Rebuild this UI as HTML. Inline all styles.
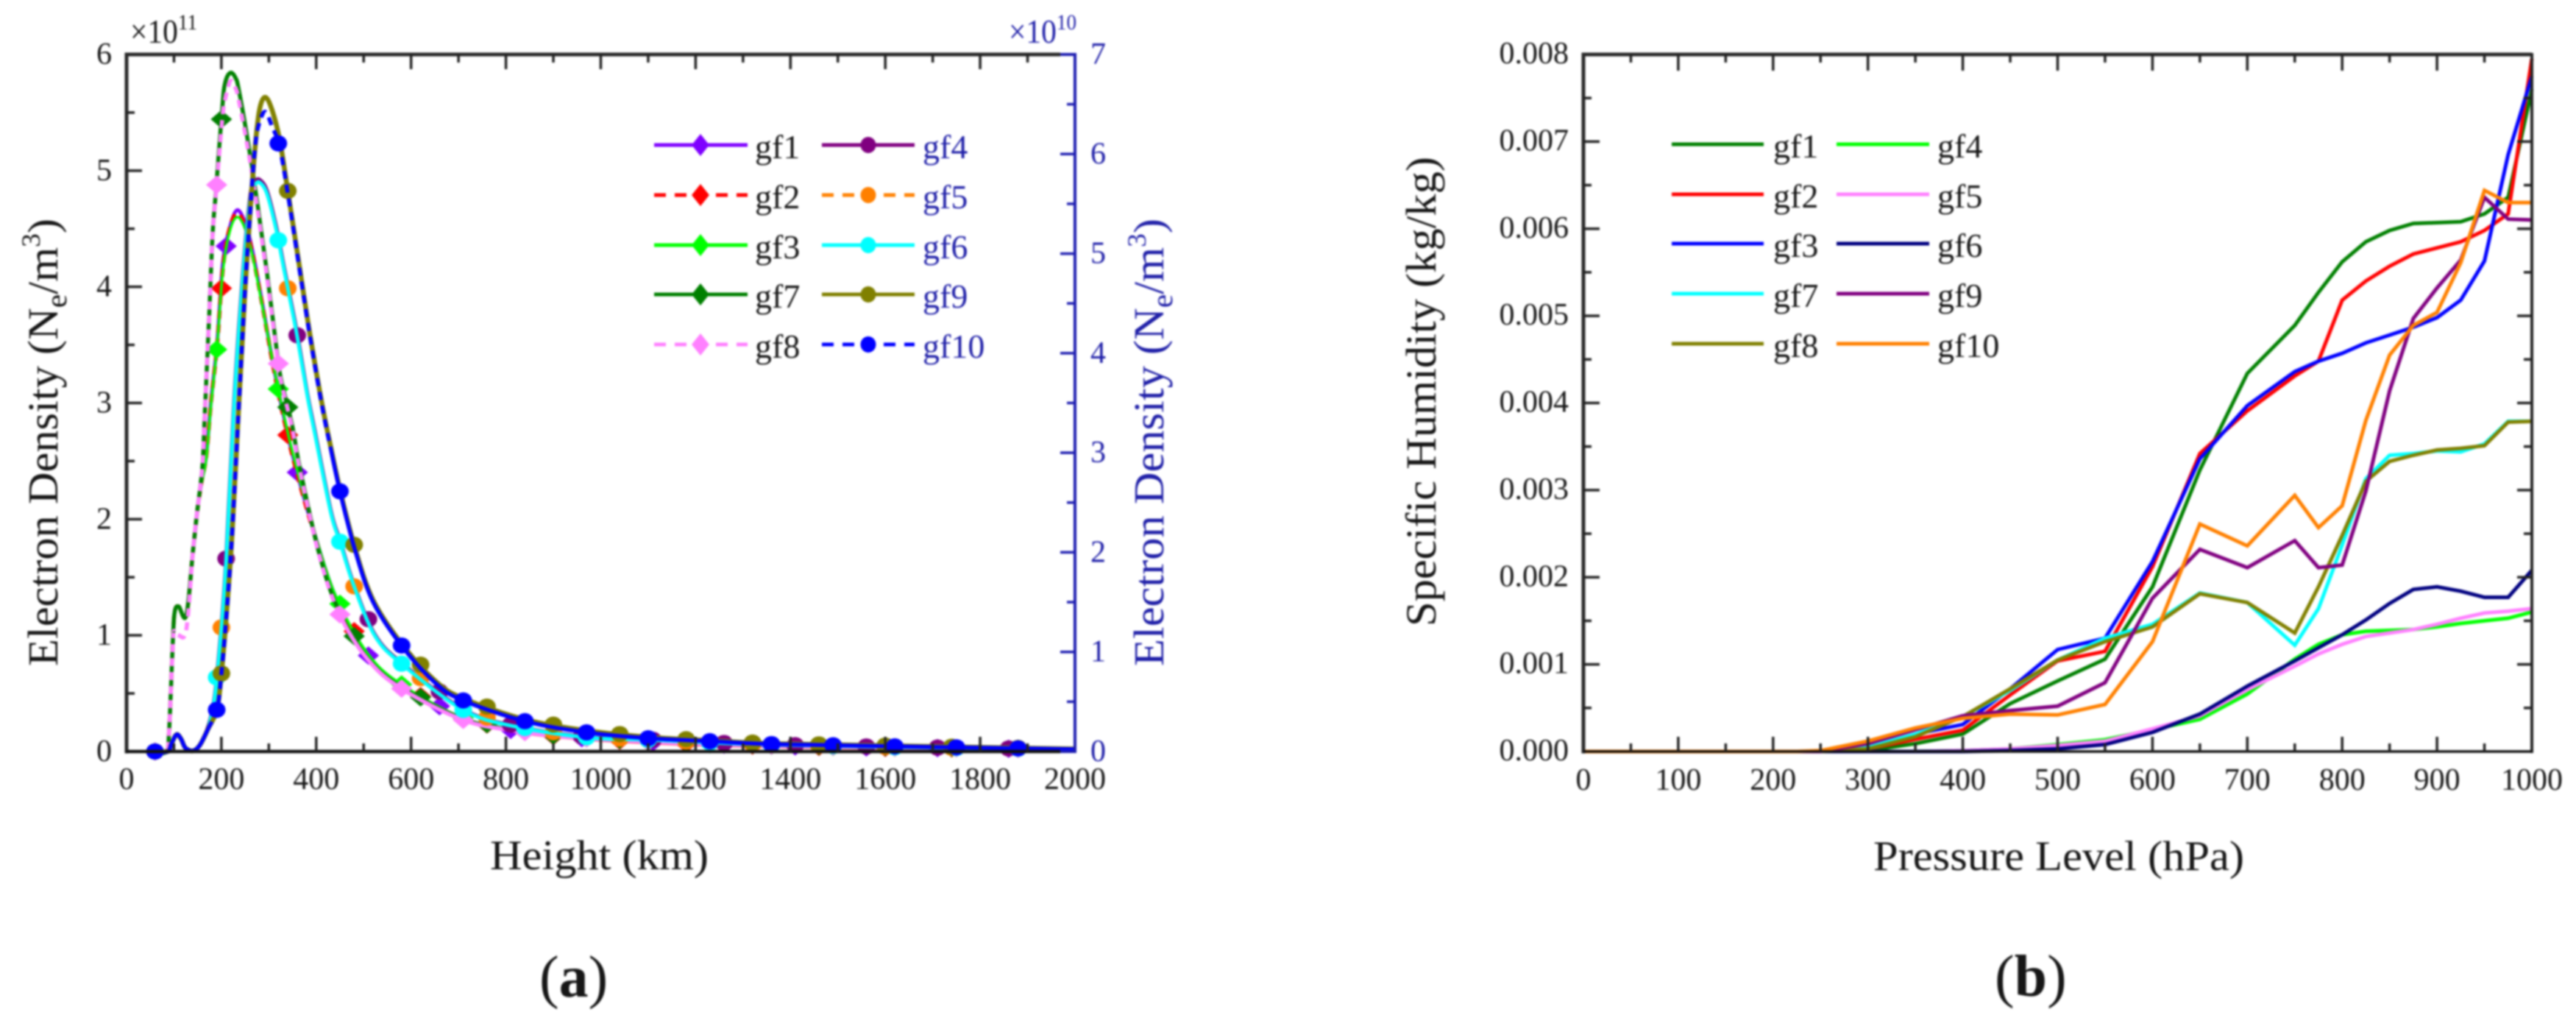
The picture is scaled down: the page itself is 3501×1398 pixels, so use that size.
<!DOCTYPE html>
<html lang="en">
<head>
<meta charset="utf-8">
<title>Electron density and specific humidity profiles</title>
<style>
html,body{margin:0;padding:0;background:#fff;width:3501px;height:1398px;overflow:hidden}
svg{display:block;filter:blur(1.2px)}
text{font-family:"Liberation Serif",serif;fill:#161616}
.sans{font-family:"Liberation Sans",sans-serif}
.blue{fill:#2020a8}
</style>
</head>
<body>
<svg id="figure" xmlns="http://www.w3.org/2000/svg" width="3501" height="1398" viewBox="0 0 3501 1398">
  <rect width="3501" height="1398" fill="#fff"/>
  <g id="panel-a"></g>
  <g id="panel-b"></g>

  <text x="666" y="1181" font-size="57" textLength="297" lengthAdjust="spacingAndGlyphs">Height (km)</text>
  <text transform="translate(78,905) rotate(-90)" font-size="58" textLength="608" lengthAdjust="spacingAndGlyphs">Electron Density (N<tspan font-size="40" dy="12">e</tspan><tspan dy="-12">/m</tspan><tspan font-size="36" dy="-24">3</tspan><tspan dy="24">)</tspan></text>
  <text class="blue" transform="translate(1581,905) rotate(-90)" font-size="58" textLength="608" lengthAdjust="spacingAndGlyphs">Electron Density (N<tspan class="blue" font-size="40" dy="12">e</tspan><tspan class="blue" dy="-12">/m</tspan><tspan class="blue" font-size="36" dy="-24">3</tspan><tspan class="blue" dy="24">)</tspan></text>
  <text x="177" y="58" font-size="46" textLength="91" lengthAdjust="spacingAndGlyphs">×10<tspan font-size="30" dy="-18">11</tspan></text>
  <text class="blue" x="1371" y="58" font-size="46" textLength="92" lengthAdjust="spacingAndGlyphs">×10<tspan class="blue" font-size="30" dy="-18">10</tspan></text>
  <text x="733" y="1354" font-size="80">(<tspan font-weight="bold">a</tspan>)</text>

  <text x="2546" y="1182" font-size="57" textLength="504" lengthAdjust="spacingAndGlyphs">Pressure Level (hPa)</text>
  <text transform="translate(1951,851) rotate(-90)" font-size="58" textLength="638" lengthAdjust="spacingAndGlyphs">Specific Humidity (kg/kg)</text>
  <text x="2711" y="1353" font-size="80">(<tspan font-weight="bold">b</tspan>)</text>
</svg>

<script>
// ---------- Panel (a) data: heights in km ----------
const heightsPeakHigh = [60,84,90,98,102,110,126,140,149,160,164.5,175,181.5,189,202,208,219,230,237,258,276,296,318,327,349,365,405,447,509,582,711,819,901,1001,1199,1400,1600,2000];
const heightsPeakLow = [60,84,90,98,102,110,126,140,149,158,168,178,191,203,217,233,250,265,287,307,326,354,396,442,509,582,711,819,901,1001,1199,1400,1600,2000];
const heightsLatePeakHigh = [60,87,95,105.5,115,124,140,155,172,191,200,209.5,222,237,250,261,271.5,281,293,307,323,341,365,385,411,431,451.5,482.5,520,582,653,711,841,970,1100,1232,1361,1618,2000];
const heightsLatePeakLow = [60,87,95,105.5,115,124,140,155,172,186,199,209.5,227,240.5,253,264,272,281,296,315,333,354,366,382,396,431,450,479,524,582,711,819,974,1100,1232,1361,1618,2000];

// Electron density, left axis (x 1e11)
const gf1Density = [0,0,.196,.995,1.21,1.248,1.172,1.723,2.066,2.319,2.54,3.01,3.52,4.2,4.5,4.66,4.55,4.32,3.84,3.38,2.99,2.49,1.88,1.32,.83,.56,.28,.178,.134,.102,.064,.045,.033,.019];
const gf2Density = [0,0,.196,.995,1.21,1.248,1.172,1.723,2.066,2.319,2.54,3.003,3.50,4.15,4.50,4.632,4.524,4.296,3.827,3.364,2.971,2.477,1.869,1.312,.824,.558,.279,.177,.133,.101,.063,.044,.032,.019];
const gf3Density = [0,0,.196,.995,1.21,1.248,1.172,1.723,2.066,2.30,2.52,2.98,3.50,4.13,4.47,4.60,4.50,4.28,3.82,3.38,3.00,2.51,1.89,1.33,.84,.57,.285,.18,.135,.102,.064,.045,.033,.019];
const gf7Density = [0,0,.196,.995,1.21,1.248,1.172,1.723,2.066,2.452,2.857,3.827,4.46,4.85,5.55,5.759,5.842,5.797,5.69,5.2,4.714,4.125,3.409,3.181,2.813,2.452,1.723,1.216,.798,.545,.279,.184,.139,.108,.07,.05,.038,.019];
const gf8Density = [0,0,.196,.96,1.02,1.0,1.05,1.723,2.066,2.452,2.857,3.827,4.46,4.83,5.45,5.62,5.77,5.71,5.6,5.14,4.67,4.09,3.39,3.16,2.79,2.43,1.71,1.2,.79,.535,.27,.178,.134,.104,.066,.047,.035,.018];

// Electron density, right axis (x 1e10)
const gf4Density = [0,0,.081,.170,.126,.037,.007,.067,.25,.56,1.2,1.89,3.53,4.49,5.23,5.67,5.73,5.74,5.63,5.28,4.84,4.34,4.02,3.57,3.24,2.41,2.12,1.68,1.17,.88,.42,.255,.143,.12,.09,.068,.045,.022];
const gf5Density = [0,0,.081,.170,.126,.037,.007,.067,.24,.55,1.18,1.87,3.504,4.465,5.204,5.647,5.70,5.714,5.603,5.255,4.82,4.317,3.999,3.555,3.22,2.395,2.107,1.67,1.16,.872,.414,.251,.14,.118,.089,.067,.044,.022];
const gf6Density = [0,0,.081,.170,.126,.037,.007,.067,.24,.55,1.18,1.87,3.504,4.465,5.204,5.647,5.70,5.714,5.603,5.255,4.82,4.317,3.999,3.555,3.22,2.395,2.107,1.67,1.16,.872,.414,.251,.14,.118,.089,.067,.044,.022];
const gf9Density = [0,0,.081,.170,.126,.037,.007,.067,.229,.429,.784,1.301,2.14,3.496,4.65,5.44,6.09,6.46,6.57,6.44,6.14,5.60,4.86,4.24,3.52,3.05,2.60,2.03,1.52,1.07,.70,.53,.32,.21,.145,.11,.08,.058,.026];
const gf10Density = [0,0,.081,.170,.126,.037,.007,.067,.229,.429,.784,1.301,2.14,3.496,4.65,5.44,6.09,6.327,6.423,6.275,6.068,5.573,4.834,4.22,3.50,3.03,2.58,2.01,1.5,1.05,.68,.51,.303,.192,.133,.103,.074,.052,.022];

const heightTicks = [0,200,400,600,800,1000,1200,1400,1600,1800,2000];
const leftDensityTicks = [0,1,2,3,4,5,6];
const rightDensityTicks = [0,1,2,3,4,5,6,7];

// ---------- Panel (b) data: specific humidity in 1e-3 kg/kg ----------
const pressureLevels = [0,100,200,225,250,300,350,400,450,500,550,600,650,700,750,775,800,825,850,875,900,925,950,975,1000];
const gf1Humidity = [0,0,0,0,0,.01,.09,.2,.55,.81,1.06,1.89,3.23,4.34,4.89,5.27,5.62,5.85,5.98,6.06,6.07,6.08,6.17,6.36,7.6];
const gf2Humidity = [0,0,0,0,0,.03,.14,.245,.65,1.04,1.15,2.12,3.42,3.91,4.31,4.48,5.18,5.40,5.57,5.71,5.78,5.85,5.98,6.17,7.95];
const gf3Humidity = [0,0,0,0,0,.05,.2,.31,.72,1.17,1.30,2.18,3.36,3.97,4.36,4.48,4.57,4.69,4.78,4.87,4.98,5.18,5.63,6.85,7.75];
const gf4Humidity = [0,0,0,0,0,0,0,.01,.03,.08,.135,.25,.37,.66,1.06,1.23,1.34,1.38,1.39,1.40,1.43,1.47,1.50,1.53,1.60];
const gf5Humidity = [0,0,0,0,0,0,0,.01,.03,.07,.118,.26,.41,.71,.98,1.12,1.23,1.32,1.36,1.40,1.46,1.53,1.59,1.61,1.64];
const gf6Humidity = [0,0,0,0,0,0,0,0,.01,.03,.08,.22,.43,.75,1.04,1.19,1.34,1.51,1.70,1.86,1.89,1.84,1.77,1.77,2.08];
const gf7Humidity = [0,0,0,0,0,.05,.2,.4,.7,1.05,1.30,1.46,1.82,1.71,1.22,1.64,2.37,3.13,3.40,3.42,3.45,3.44,3.53,3.79,3.79];
const gf8Humidity = [0,0,0,0,0,.03,.17,.4,.72,1.05,1.26,1.43,1.81,1.71,1.36,1.89,2.48,3.10,3.33,3.40,3.46,3.48,3.51,3.78,3.79];
const gf9Humidity = [0,0,0,0,0,.09,.25,.41,.47,.52,.79,1.76,2.32,2.11,2.42,2.11,2.14,2.99,4.14,4.97,5.32,5.64,6.36,6.11,6.1];
const gf10Humidity = [0,0,0,0,.01,.12,.27,.38,.43,.42,.54,1.26,2.61,2.36,2.94,2.57,2.82,3.80,4.55,4.89,5.04,5.61,6.44,6.30,6.30];

const pressureTicks = [0,100,200,300,400,500,600,700,800,900,1000];
const humidityTicks = ["0.000","0.001","0.002","0.003","0.004","0.005","0.006","0.007","0.008"];

// ---------- Helpers ----------
const NS = 'http://www.w3.org/2000/svg';
const panelA = document.getElementById('panel-a');
const panelB = document.getElementById('panel-b');

function make(parent, tag, name) {
  const el = document.createElementNS(NS, tag);
  
  
  parent.appendChild(el);
  return el;
}
function line(parent, name, x1, y1, x2, y2, color, width) {
  const el = make(parent, 'line', name);
  el.setAttribute('x1', x1);
  el.setAttribute('y1', y1);
  el.setAttribute('x2', x2);
  el.setAttribute('y2', y2);
  el.setAttribute('stroke', color);
  el.setAttribute('stroke-width', width);
  return el;
}
function label(parent, name, x, y, str, size, anchor, cls) {
  const el = make(parent, 'text', name);
  el.setAttribute('x', x);
  el.setAttribute('y', y);
  el.setAttribute('font-size', size);
  el.setAttribute('text-anchor', anchor);
  if (cls) el.setAttribute('class', cls);
  el.textContent = str;
  return el;
}
function interp(xs, ys, x) {
  if (x <= xs[0]) return ys[0];
  for (let i = 1; i < xs.length; i++) {
    if (x <= xs[i]) {
      const t = (x - xs[i - 1]) / (xs[i] - xs[i - 1]);
      return ys[i - 1] + t * (ys[i] - ys[i - 1]);
    }
  }
  return ys[ys.length - 1];
}
// Smooth path through a slice [a,b] of the point list
function smoothPath(pts, a, b) {
  let d = 'M' + pts[a][0].toFixed(1) + ' ' + pts[a][1].toFixed(1);
  for (let i = a; i < b; i++) {
    const p0 = pts[Math.max(i - 1, 0)], p1 = pts[i], p2 = pts[i + 1], p3 = pts[Math.min(i + 2, pts.length - 1)];
    const c1x = p1[0] + (p2[0] - p0[0]) / 6, c1y = p1[1] + (p2[1] - p0[1]) / 6;
    const c2x = p2[0] - (p3[0] - p1[0]) / 6, c2y = p2[1] - (p3[1] - p1[1]) / 6;
    d += 'C' + c1x.toFixed(1) + ' ' + c1y.toFixed(1) + ' ' + c2x.toFixed(1) + ' ' + c2y.toFixed(1) + ' ' + p2[0].toFixed(1) + ' ' + p2[1].toFixed(1);
  }
  return d;
}
function strokePath(parent, name, d, color, width, dash) {
  const el = make(parent, 'path', name);
  el.setAttribute('d', d);
  el.setAttribute('fill', 'none');
  el.setAttribute('stroke', color);
  el.setAttribute('stroke-width', width);
  el.setAttribute('stroke-linejoin', 'round');
  if (dash) el.setAttribute('stroke-dasharray', dash);
  return el;
}
function drawMarker(parent, name, shape, x, y, color, hw, hh) {
  let el;
  if (shape === 'diamond') {
    el = make(parent, 'polygon', name);
    el.setAttribute('points', (x - hw) + ',' + y + ' ' + x + ',' + (y - hh) + ' ' + (x + hw) + ',' + y + ' ' + x + ',' + (y + hh));
  } else {
    el = make(parent, 'ellipse', name);
    el.setAttribute('cx', x);
    el.setAttribute('cy', y);
    el.setAttribute('rx', hw);
    el.setAttribute('ry', hh);
  }
  el.setAttribute('fill', color);
  return el;
}

// ---------- Panel (a) axes ----------
const aLeft = 172, aRight = 1461, plotTop = 74, plotBottom = 1021;
const xHeight = km => aLeft + km * (aRight - aLeft) / 2000;
const yLeftAxis = v => plotBottom - v * (plotBottom - plotTop) / 6;
const yRightAxis = v => plotBottom - v * (plotBottom - plotTop) / 7;
const axisGrey = '#2a2a2a', axisBlue = '#1c1cb0';

const densitySeries = [
  {name:'gf1', heights:heightsPeakLow, values:gf1Density, y:yLeftAxis, color:'#7f00ff', width:5, step:150, shape:'diamond'},
  {name:'gf2', heights:heightsPeakLow, values:gf2Density, y:yLeftAxis, color:'#ff0000', width:5.5, step:140, shape:'diamond', dash:[60,450]},
  {name:'gf3', heights:heightsPeakLow, values:gf3Density, y:yLeftAxis, color:'#00ff00', width:3.5, step:130, shape:'diamond'},
  {name:'gf7', heights:heightsPeakHigh, values:gf7Density, y:yLeftAxis, color:'#008000', width:5.5, step:140, shape:'diamond'},
  {name:'gf8', heights:heightsPeakHigh, values:gf8Density, y:yLeftAxis, color:'#ff80ff', width:5.5, step:130, shape:'diamond', dash:[60,450]},
  {name:'gf4', heights:heightsLatePeakLow, values:gf4Density, y:yRightAxis, color:'#800080', width:5.5, step:150, shape:'circle'},
  {name:'gf5', heights:heightsLatePeakLow, values:gf5Density, y:yRightAxis, color:'#ff8000', width:4.5, step:140, shape:'circle', dash:[60,450]},
  {name:'gf6', heights:heightsLatePeakLow, values:gf6Density, y:yRightAxis, color:'#00ffff', width:5, step:130, shape:'circle'},
  {name:'gf9', heights:heightsLatePeakHigh, values:gf9Density, y:yRightAxis, color:'#808000', width:6.5, step:140, shape:'circle'},
  {name:'gf10', heights:heightsLatePeakHigh, values:gf10Density, y:yRightAxis, color:'#0000ff', width:5.5, step:130, shape:'circle', dash:[190,450]}
];

densitySeries.forEach(s => {
  const g = make(panelA, 'g', 'series-' + s.name);
  const pts = s.heights.map((h, i) => [xHeight(h), s.y(s.values[i])]);
  const last = pts.length - 1;
  if (s.dash) {
    let a = 0, b = 0;
    s.heights.forEach((h, i) => { if (h <= s.dash[0]) a = i; if (h <= s.dash[1]) b = i; });
    if (a > 0) strokePath(g, 'line-' + s.name + '-start', smoothPath(pts, 0, a), s.color, s.width);
    strokePath(g, 'line-' + s.name + '-dashed', smoothPath(pts, a, b), s.color, s.width, '11 8');
    strokePath(g, 'line-' + s.name + '-tail', smoothPath(pts, b, last), s.color, s.width);
  } else {
    strokePath(g, 'line-' + s.name, smoothPath(pts, 0, last), s.color, s.width);
  }
  for (let km = 60; km <= 1900; km += s.step) {
    const v = interp(s.heights, s.values, km);
    const hw = s.shape === 'diamond' ? 14.5 : 12;
    const hh = s.shape === 'diamond' ? 12.5 : 11;
    drawMarker(g, 'marker-' + s.name, s.shape, xHeight(km), s.y(v), s.color, hw, hh);
  }
});

// Panel (a) axes frame and ticks
const aAxes = make(panelA, 'g', 'panel-a-axes');
line(aAxes, 'left-axis-line', aLeft, plotTop - 2.5, aLeft, plotBottom + 2.5, axisGrey, 5);
line(aAxes, 'top-axis-line', aLeft, plotTop, aRight - 20, plotTop, axisGrey, 5);
line(aAxes, 'bottom-axis-line', aLeft, plotBottom, aRight - 20, plotBottom, '#111', 4.5);
line(aAxes, 'right-axis-line', aRight, plotTop - 2, aRight, plotBottom + 2, axisBlue, 4);
line(aAxes, 'right-axis-top-cap', aRight - 20, plotTop, aRight, plotTop, axisBlue, 4);
line(aAxes, 'right-axis-bottom-cap', aRight - 20, plotBottom, aRight, plotBottom, axisBlue, 4);
heightTicks.forEach((t, i) => {
  const x = xHeight(t);
  if (t > 0 && t < 2000) {
    line(aAxes, 'x-major-tick-top', x, plotTop, x, plotTop + 20, '#222', 3.5);
    line(aAxes, 'x-major-tick-bottom', x, plotBottom, x, plotBottom - 20, '#222', 3.5);
  }
  if (t < 2000) {
    const m = xHeight(t + 100);
    line(aAxes, 'x-minor-tick-top', m, plotTop, m, plotTop + 11, '#222', 3.5);
    line(aAxes, 'x-minor-tick-bottom', m, plotBottom, m, plotBottom - 11, '#222', 3.5);
  }
  label(aAxes, 'x-tick-label', x, 1072, String(t), 42, 'middle');
});
leftDensityTicks.forEach(t => {
  const y = yLeftAxis(t);
  if (t > 0 && t < 6) line(aAxes, 'left-major-tick', aLeft, y, aLeft + 21, y, '#222', 3.5);
  if (t < 6) {
    const m = yLeftAxis(t + 0.5);
    line(aAxes, 'left-minor-tick', aLeft, m, aLeft + 11, m, '#222', 3.5);
  }
  label(aAxes, 'left-y-tick-label', 152, y + 13, String(t), 42, 'end');
});
rightDensityTicks.forEach(t => {
  const y = yRightAxis(t);
  if (t > 0 && t < 7) line(aAxes, 'right-major-tick', aRight - 20, y, aRight, y, axisBlue, 3.5);
  if (t < 7) {
    const m = yRightAxis(t + 0.5);
    line(aAxes, 'right-minor-tick', aRight - 11, m, aRight, m, axisBlue, 3.5);
  }
  label(aAxes, 'right-y-tick-label', 1482, y + 13, String(t), 42, 'start', 'blue');
});

// Panel (a) legend
const legendRowsA = [197, 265, 333, 400, 468];
const legendA = make(panelA, 'g', 'panel-a-legend');
const legendColumnsA = [
  {x1:889, x2:1016, mx:952, tx:1026, cls:'', items:['gf1','gf2','gf3','gf7','gf8']},
  {x1:1117, x2:1243, mx:1180, tx:1254, cls:'blue', items:['gf4','gf5','gf6','gf9','gf10']}
];
legendColumnsA.forEach(col => {
  col.items.forEach((nm, r) => {
    const s = densitySeries.find(d => d.name === nm);
    const y = legendRowsA[r];
    const g = make(legendA, 'g', 'legend-entry-' + nm);
    const l = line(g, 'legend-line-' + nm, col.x1, y, col.x2, y, s.color, 5);
    if (s.dash) l.setAttribute('stroke-dasharray', '16 12');
    if (s.shape === 'diamond') drawMarker(g, 'legend-marker-' + nm, 'diamond', col.mx, y, s.color, 12, 15);
    else drawMarker(g, 'legend-marker-' + nm, 'circle', col.mx, y, s.color, 10.5, 11);
    label(g, 'legend-label-' + nm, col.tx, y + 18, nm, 46, 'start', col.cls);
  });
});

// ---------- Panel (b) axes ----------
const bLeft = 2152, bRight = 3441;
const xPressure = p => bLeft + p * (bRight - bLeft) / 1000;
const yHumidity = v => plotBottom - v * (plotBottom - plotTop) / 8;

const humiditySeries = [
  {name:'gf1', values:gf1Humidity, color:'#008000'},
  {name:'gf2', values:gf2Humidity, color:'#ff0000'},
  {name:'gf3', values:gf3Humidity, color:'#0000ff'},
  {name:'gf4', values:gf4Humidity, color:'#00ff00'},
  {name:'gf5', values:gf5Humidity, color:'#ff80ff'},
  {name:'gf6', values:gf6Humidity, color:'#000080'},
  {name:'gf7', values:gf7Humidity, color:'#00ffff'},
  {name:'gf8', values:gf8Humidity, color:'#808000'},
  {name:'gf9', values:gf9Humidity, color:'#800080'},
  {name:'gf10', values:gf10Humidity, color:'#ff8000'}
];
humiditySeries.forEach(s => {
  const el = make(panelB, 'polyline', 'humidity-line-' + s.name);
  el.setAttribute('points', pressureLevels.map((p, i) => xPressure(p).toFixed(1) + ',' + yHumidity(s.values[i]).toFixed(1)).join(' '));
  el.setAttribute('fill', 'none');
  el.setAttribute('stroke', s.color);
  el.setAttribute('stroke-width', 5);
  el.setAttribute('stroke-linejoin', 'miter');
});

const bAxes = make(panelB, 'g', 'panel-b-axes');
line(bAxes, 'left-axis-line', bLeft, plotTop - 2.5, bLeft, plotBottom + 2.5, axisGrey, 5);
line(bAxes, 'right-axis-line', bRight, plotTop - 2, bRight, plotBottom + 2, '#222', 4);
line(bAxes, 'top-axis-line', bLeft, plotTop, bRight, plotTop, axisGrey, 5);
line(bAxes, 'bottom-axis-line', bLeft, plotBottom, bRight, plotBottom, '#111', 3.5);
pressureTicks.forEach(t => {
  const x = xPressure(t);
  if (t > 0 && t < 1000) {
    line(bAxes, 'x-major-tick-top', x, plotTop, x, plotTop + 22, '#222', 3.5);
    line(bAxes, 'x-major-tick-bottom', x, plotBottom, x, plotBottom - 20, '#222', 3.5);
  }
  if (t < 1000) {
    const m = xPressure(t + 50);
    line(bAxes, 'x-minor-tick-top', m, plotTop, m, plotTop + 11, '#222', 3.5);
    line(bAxes, 'x-minor-tick-bottom', m, plotBottom, m, plotBottom - 11, '#222', 3.5);
  }
  label(bAxes, 'x-tick-label', x, 1073, String(t), 42, 'middle');
});
humidityTicks.forEach((t, i) => {
  const y = yHumidity(i);
  if (i > 0 && i < 8) {
    line(bAxes, 'y-major-tick-left', bLeft, y, bLeft + 22, y, '#222', 3.5);
    line(bAxes, 'y-major-tick-right', bRight - 20, y, bRight, y, '#222', 3.5);
  }
  if (i < 8) {
    const m = yHumidity(i + 0.5);
    line(bAxes, 'y-minor-tick-left', bLeft, m, bLeft + 11, m, '#222', 3.5);
    line(bAxes, 'y-minor-tick-right', bRight - 11, m, bRight, m, '#222', 3.5);
  }
  label(bAxes, 'y-tick-label', 2132, y + 12, t, 42, 'end');
});

// Panel (b) legend
const legendRowsB = [196, 264, 331, 399, 467];
const legendB = make(panelB, 'g', 'panel-b-legend');
const legendColumnsB = [
  {x1:2272, x2:2397, tx:2410, items:['gf1','gf2','gf3','gf7','gf8']},
  {x1:2496, x2:2622, tx:2633, items:['gf4','gf5','gf6','gf9','gf10']}
];
legendColumnsB.forEach(col => {
  col.items.forEach((nm, r) => {
    const s = humiditySeries.find(d => d.name === nm);
    const y = legendRowsB[r];
    const g = make(legendB, 'g', 'legend-entry-' + nm);
    line(g, 'legend-line-' + nm, col.x1, y, col.x2, y, s.color, 5);
    label(g, 'legend-label-' + nm, col.tx, y + 18, nm, 46, 'start');
  });
});
</script>
</body>
</html>
